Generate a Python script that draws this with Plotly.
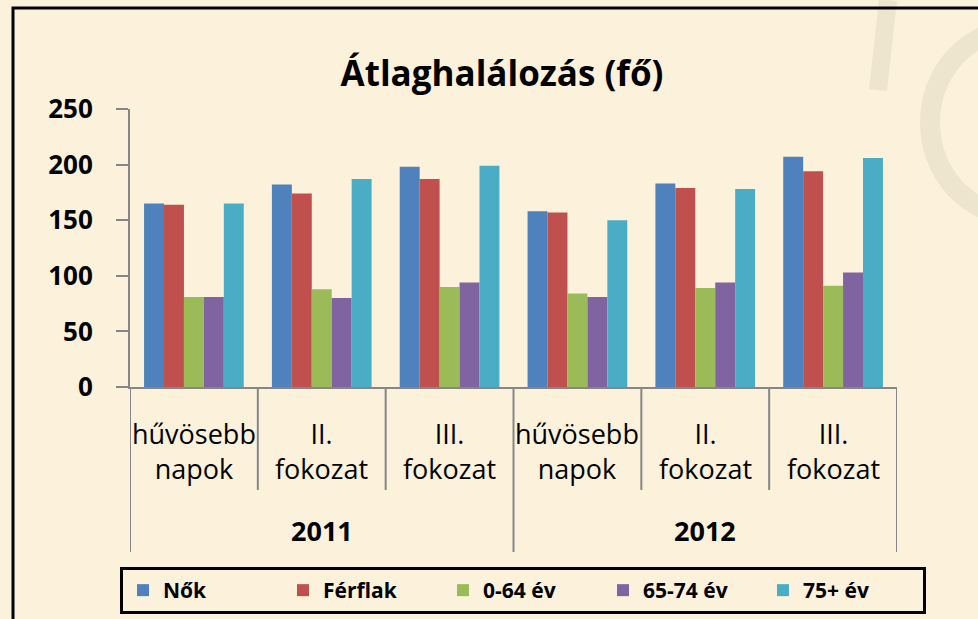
import plotly.graph_objects as go

# ---- data ----
years = ["2011", "2012"]
levels = ["hűvösebb<br>napok", "II.<br>fokozat", "III.<br>fokozat"]
series_names = ["Nők", "Férflak", "0-64 év", "65-74 év", "75+ év"]
nok = [165, 182, 198, 158, 183, 207]
ferfiak = [164, 174, 187, 157, 179, 194]
ev_0_64 = [81, 88, 90, 84, 89, 91]
ev_65_74 = [81, 80, 94, 81, 94, 103]
ev_75 = [165, 187, 199, 150, 178, 206]
y_ticks = [0, 50, 100, 150, 200, 250]

colors = ["#4F81BD", "#C0504D", "#9BBB59", "#8064A2", "#4BACC6"]
series_values = [nok, ferfiak, ev_0_64, ev_65_74, ev_75]

BG = "#FCF2DC"
AXIS = "#868686"
FONT = "Open Sans"

# layout geometry (pixels)
W, H = 978, 619
L, R, T, B = 130, 897, 109, 387


def px_x(p):
    return (p - L) / (R - L)


def px_y(p):
    return (B - p) / (B - T)


n_cat = len(years) * len(levels)
xs = list(range(n_cat))

fig = go.Figure()
for name, vals, col in zip(series_names, series_values, colors):
    fig.add_trace(go.Bar(x=xs, y=vals, name=name, marker=dict(color=col, line=dict(width=0))))

shapes = []
per = len(levels)
for k in range(n_cat + 1):
    xpos = k - 0.5
    outer = (k % per == 0)
    y_end = px_y(552) if outer else px_y(490)
    shapes.append(dict(type="line", xref="x", yref="paper", x0=xpos, x1=xpos,
                       y0=0, y1=y_end, line=dict(color=AXIS, width=2)))

# outer black frame
shapes.append(dict(type="rect", xref="paper", yref="paper",
                   x0=px_x(13), x1=px_x(1000), y0=px_y(640), y1=px_y(8),
                   line=dict(color="black", width=3), layer="above"))
# faint watermark strokes
shapes.append(dict(type="circle", xref="paper", yref="paper",
                   x0=px_x(930), x1=px_x(1100), y0=px_y(215), y1=px_y(30),
                   line=dict(color="rgba(190,180,160,0.22)", width=20), layer="below"))
shapes.append(dict(type="line", xref="paper", yref="paper",
                   x0=px_x(888), x1=px_x(878), y0=px_y(0), y1=px_y(90),
                   line=dict(color="rgba(190,180,160,0.22)", width=18), layer="below"))

annotations = []
for yi, yr in enumerate(years):
    for li, lv in enumerate(levels):
        annotations.append(dict(x=yi * per + li, y=px_y(451), xref="x", yref="paper",
                                text=lv, showarrow=False, xanchor="center", yanchor="middle",
                                font=dict(family=FONT, size=27, color="black")))
    annotations.append(dict(x=yi * per + (per - 1) / 2, y=px_y(530), xref="x", yref="paper",
                            text=yr, showarrow=False, xanchor="center", yanchor="middle",
                            font=dict(family=FONT, size=27, color="black", weight="bold")))

fig.update_layout(
    width=W, height=H,
    margin=dict(l=L, r=W - R, t=T, b=H - B, autoexpand=False),
    paper_bgcolor=BG, plot_bgcolor="rgba(0,0,0,0)",
    barmode="group", bargap=0.22, bargroupgap=0,
    title=dict(text="Átlaghalálozás (fő)", x=px_x(502), xref="paper", xanchor="center",
               y=1 - 74 / H, yref="container", yanchor="middle",
               font=dict(family=FONT, size=35, color="black", weight="bold")),
    xaxis=dict(range=[-0.5, n_cat - 0.5], showticklabels=False, ticks="", showgrid=False,
               zeroline=False, showline=True, linecolor=AXIS, linewidth=2, fixedrange=True),
    yaxis=dict(range=[0, 250], tickvals=y_ticks, ticks="outside", ticklen=12, tickwidth=2,
               tickcolor=AXIS, showline=True, linecolor=AXIS, linewidth=2, showgrid=False,
               zeroline=False, ticklabelstandoff=18, fixedrange=True,
               tickfont=dict(family=FONT, size=26, color="black", weight="bold")),
    legend=dict(orientation="h", x=px_x(120), xanchor="left", xref="paper",
                y=px_y(567), yanchor="top", yref="paper",
                bgcolor=BG, bordercolor="black", borderwidth=3,
                entrywidth=115, entrywidthmode="pixels",
                font=dict(family=FONT, size=21, color="black", weight="bold")),
    shapes=shapes, annotations=annotations, showlegend=True,
)

fig.write_html("out.html", config={"displayModeBar": False},
               post_script="document.body.style.margin='0';document.body.style.background='" + BG + "';")
